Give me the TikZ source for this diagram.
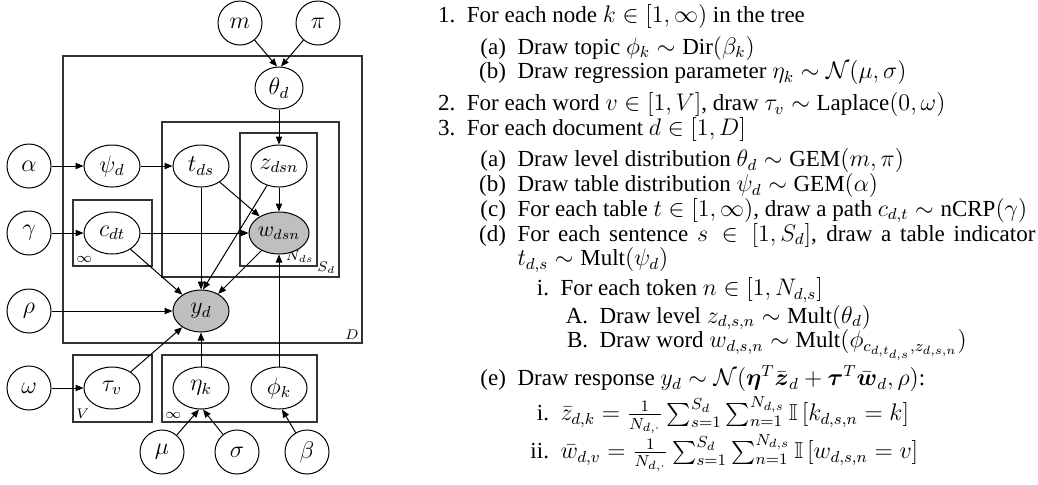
\documentclass[tikz,border=0pt]{standalone}
\usepackage{amsmath,amssymb}
\usepackage[no-math]{fontspec}
\setmainfont{Liberation Serif}
\usetikzlibrary{shapes.geometric,arrows.meta}
\makeatletter
\def\@listI{\leftmargin\leftmargini \topsep 0pt \partopsep 0pt \parsep 0pt \itemsep 0pt}
\let\@listi\@listI
\def\@listii{\leftmargin\leftmarginii \labelwidth\leftmarginii \advance\labelwidth-\labelsep \topsep 3.5pt \partopsep 0pt \parsep 0pt \itemsep 0pt}
\def\@listiii{\leftmargin\leftmarginiii \labelwidth\leftmarginiii \advance\labelwidth-\labelsep \topsep 2.5pt \partopsep 0pt \parsep 0pt \itemsep 0pt}
\def\@listiv{\leftmargin\leftmarginiv \labelwidth\leftmarginiv \advance\labelwidth-\labelsep \topsep 1.5pt \partopsep 0pt \parsep 0pt \itemsep 0pt}
\makeatother
\begin{document}
\begin{tikzpicture}[x=0.5pt,y=-0.5pt,
  var/.style={circle, draw, line width=0.5pt, minimum size=22pt, inner sep=0pt, font=\fontsize{12}{14}\selectfont},
  rv/.style={ellipse, draw, line width=0.5pt, minimum width=28pt, minimum height=21pt, inner sep=0pt, font=\fontsize{12}{14}\selectfont},
  obs/.style={rv, fill=black!25},
  plate/.style={draw, line width=0.6pt, black!80},
  platelab/.style={font=\fontsize{7}{8}\selectfont, inner sep=1.5pt},
  edge/.style={-{Triangle[length=4pt,width=3.2pt]}, line width=0.5pt}]
\useasboundingbox (0,0) rectangle (1038,484);
% plates
\draw[plate] (63,56) rectangle (362,343);
\draw[plate] (162,122) rectangle (339,277);
\draw[plate] (240,133) rectangle (317,266);
\draw[plate] (73,200) rectangle (152,266);
\draw[plate] (73,355) rectangle (152,422);
\draw[plate] (162,355) rectangle (317,422);
\node[platelab, anchor=south east] (labD) at (362,343) {$D$};
\node[platelab, anchor=south east] (labS) at (339,277) {$S_d$};
\node[platelab, anchor=south east] (labN) at (317,266) {$N_{ds}$};
\node[platelab, anchor=south west] (labC) at (73,266) {$\infty$};
\node[platelab, anchor=south west] (labV) at (73,422) {$V$};
\node[platelab, anchor=south west] (labK) at (162,422) {$\infty$};
% nodes
\node[var] (m) at (240,23) {$m$};
\node[var] (pi) at (318,23) {$\pi$};
\node[rv, minimum width=24pt] (theta) at (279,88) {$\theta_d$};
\node[var] (alpha) at (29,166) {$\alpha$};
\node[rv] (psi) at (112,166) {$\psi_d$};
\node[rv] (t) at (201,166) {$t_{ds}$};
\node[rv] (z) at (279,166) {$z_{dsn}$};
\node[var] (gamma) at (29,233) {$\gamma$};
\node[rv] (c) at (112,233) {$c_{dt}$};
\node[obs, font=\fontsize{10.5}{12}\selectfont] (w) at (279,233) {$w_{dsn}$};
\node[var] (rho) at (29,311) {$\rho$};
\node[obs] (y) at (201,311) {$y_d$};
\node[var] (omega) at (29,388) {$\omega$};
\node[rv] (tau) at (112,388) {$\tau_v$};
\node[rv] (eta) at (201,388) {$\eta_k$};
\node[rv] (phi) at (279,388) {$\phi_k$};
\node[var] (mu) at (162,452) {$\mu$};
\node[var] (sigma) at (237,452) {$\sigma$};
\node[var] (beta) at (307,452) {$\beta$};
% edges
\draw[edge] (m) -- ([xshift=-1pt]theta.north);
\draw[edge] (pi) -- ([xshift=1pt]theta.north);
\draw[edge] (theta) -- (z);
\draw[edge] (alpha) -- (psi);
\draw[edge] (psi) -- (t);
\draw[edge] (t) -- (w);
\draw[edge] (z) -- (w);
\draw[edge] (gamma) -- (c);
\draw[edge] (c) -- (w);
\draw[edge] (t) -- (y);
\draw[edge] (z) -- ([xshift=1pt]y.north);
\draw[edge] (w) -- (y);
\draw[edge] (c) -- (y);
\draw[edge] (rho) -- (y);
\draw[edge] (tau) -- (y);
\draw[edge] (eta) -- (y);
\draw[edge] (phi) -- (w);
\draw[edge] (omega) -- (tau);
\draw[edge] (mu) -- ([xshift=-1pt]eta.south);
\draw[edge] (sigma) -- ([xshift=1pt]eta.south);
\draw[edge] (beta) -- ([xshift=1.5pt]phi.south);
% generative process
\node[anchor=north west, inner sep=0pt] (gen) at (409,4) {%
\begin{minipage}[t]{313pt}
\fontsize{11.5}{12.35}\selectfont
\lineskip=0pt\lineskiplimit=0pt
\setlength\leftmargini{2.5em}\setlength\leftmarginii{2.2em}%
\setlength\leftmarginiii{1.87em}\setlength\leftmarginiv{1.7em}%
\setlength\labelsep{0.5em}%
\begin{enumerate}
\item For each node $k \in [1,\infty)$ in the tree
  \begin{enumerate}
  \item Draw topic $\phi_k \sim \text{Dir}(\beta_k)$
  \item Draw regression parameter $\eta_k \sim \mathcal{N}(\mu,\sigma)$
  \end{enumerate}
\item For each word $v \in [1,V]$, draw $\tau_v \sim \text{Laplace}(0,\omega)$
\item For each document $d \in [1,D]$
  \begin{enumerate}
  \item Draw level distribution $\theta_d \sim \text{GEM}(m,\pi)$
  \item Draw table distribution $\psi_d \sim \text{GEM}(\alpha)$
  \item \mbox{For each table $t \in [1,\infty)$, draw a path $c_{d,t} \sim \text{nCRP}(\gamma)$}
  \item For each sentence $s \in [1,S_d]$, draw a table indicator\linebreak
    $t_{d,s} \sim \text{Mult}(\psi_d)$
    \begin{enumerate}
    \item For each token $n \in [1,N_{d,s}]$
      \begin{enumerate}
      \item Draw level $z_{d,s,n} \sim \text{Mult}(\theta_d)$
      \item Draw word $w_{d,s,n} \sim \text{Mult}(\phi_{c_{d,t_{d,s}},z_{d,s,n}})$
      \end{enumerate}
    \end{enumerate}
  \item Draw response $y_d \sim \mathcal{N}(\boldsymbol{\eta}^T\bar{\boldsymbol{z}}_d + \boldsymbol{\tau}^T\bar{\boldsymbol{w}}_d,\rho)$:
    \begin{enumerate}
    \item $\bar{z}_{d,k} = \frac{1}{N_{d,\cdot}}\sum_{s=1}^{S_d}\sum_{n=1}^{N_{d,s}}\mathbb{I}\left[k_{d,s,n}=k\right]$
    \item $\bar{w}_{d,v} = \frac{1}{N_{d,\cdot}}\sum_{s=1}^{S_d}\sum_{n=1}^{N_{d,s}}\mathbb{I}\left[w_{d,s,n}=v\right]$
    \end{enumerate}
  \end{enumerate}
\end{enumerate}
\end{minipage}};
\end{tikzpicture}
\end{document}
